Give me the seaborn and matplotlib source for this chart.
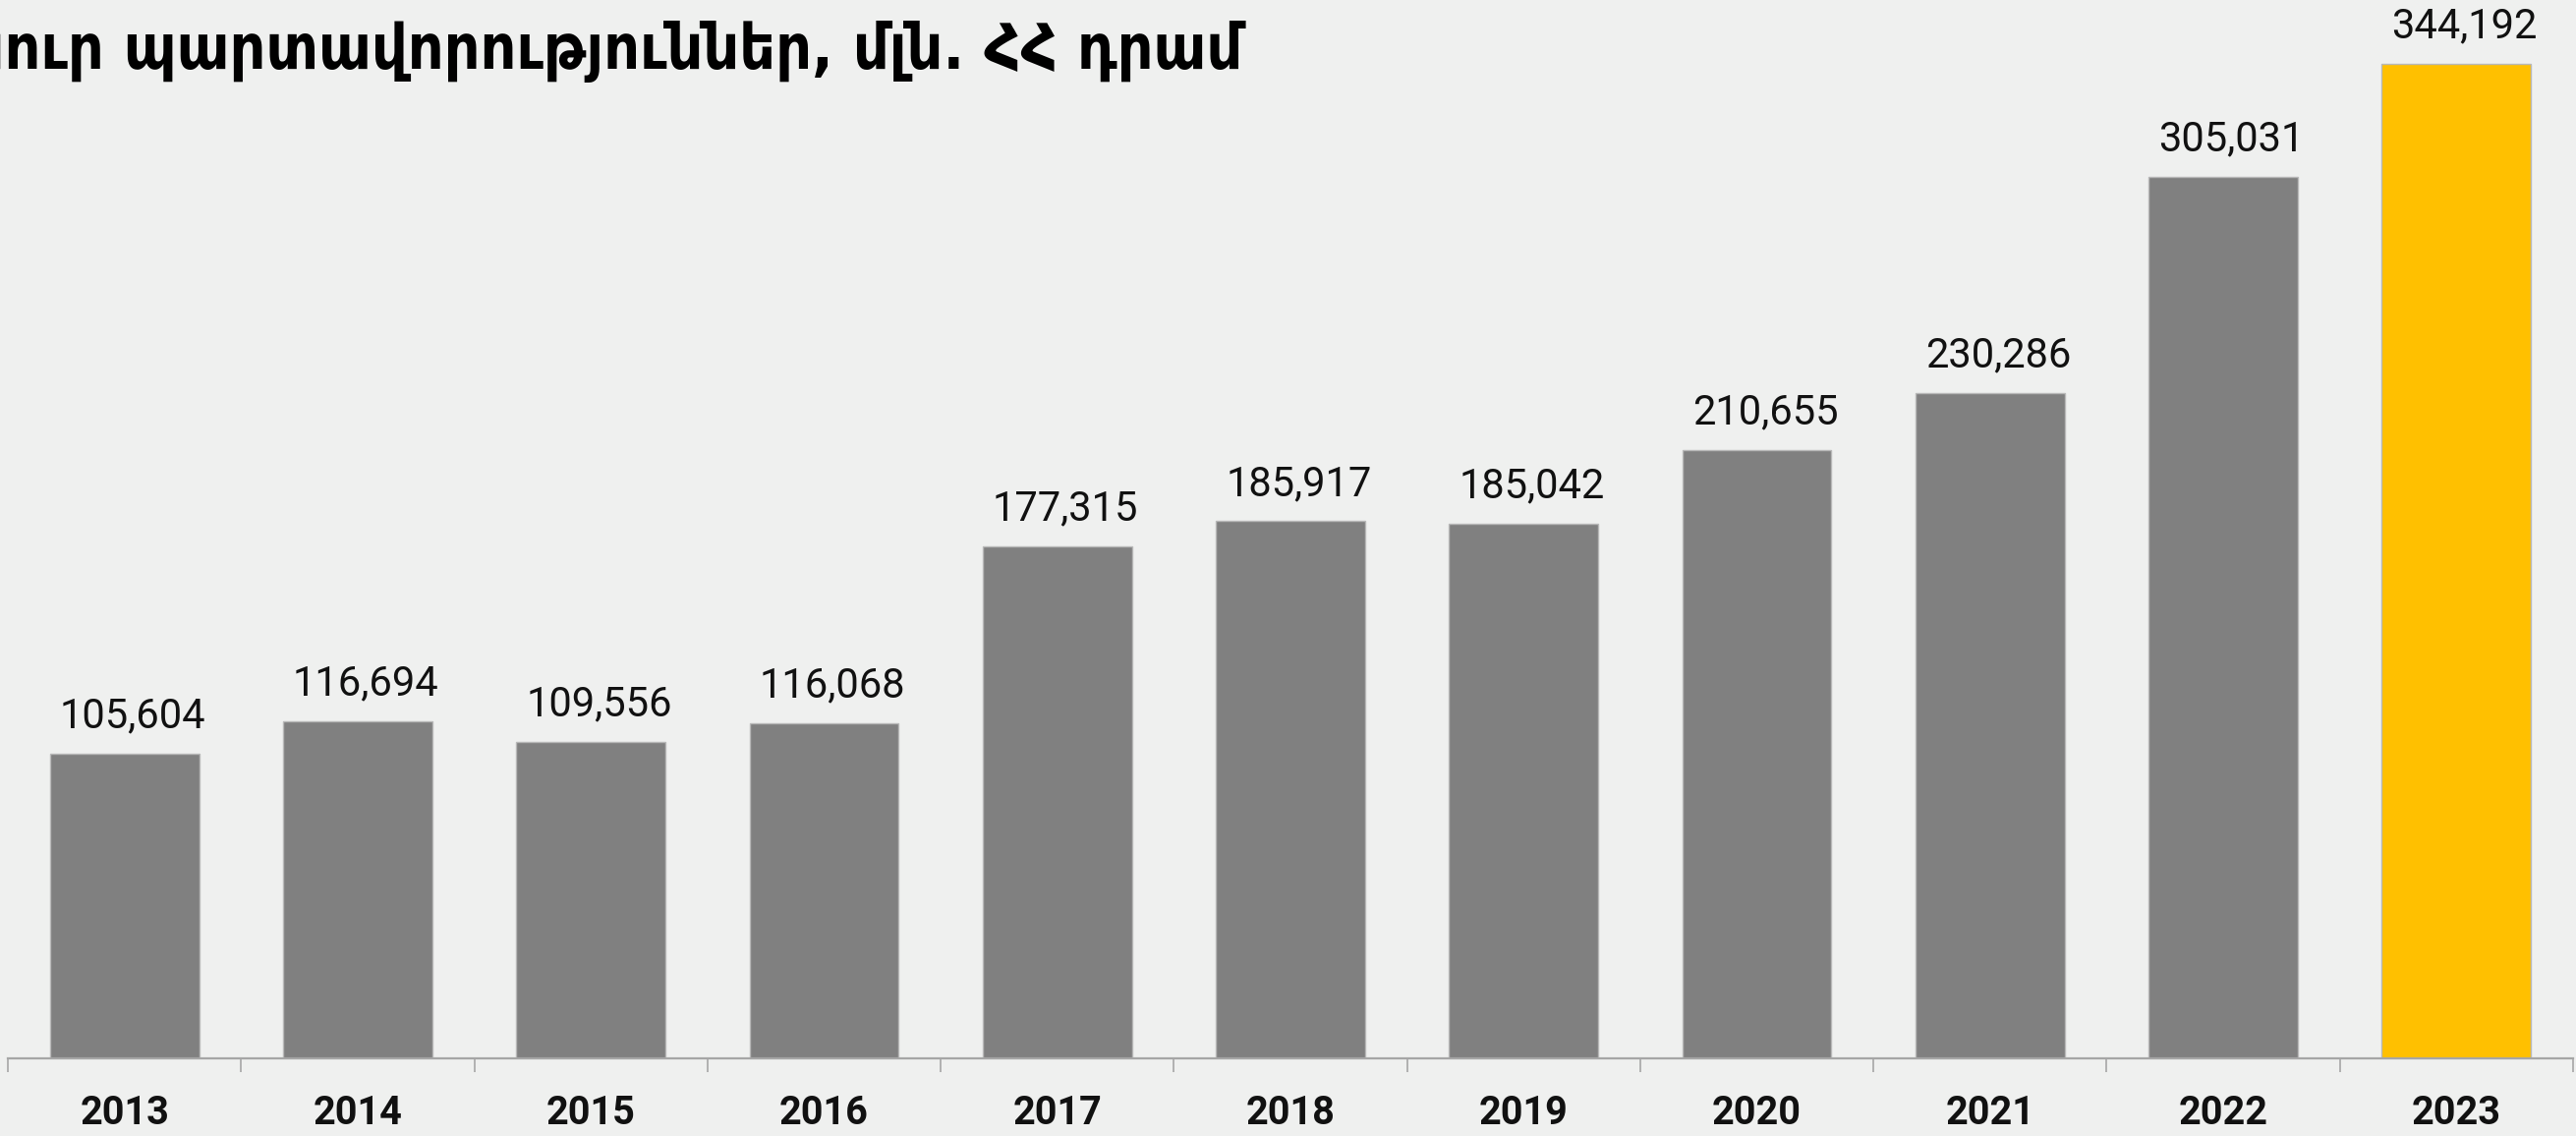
import matplotlib
matplotlib.use("Agg")
import matplotlib.pyplot as plt
import seaborn as sns
import pandas as pd

years = ["2013", "2014", "2015", "2016", "2017", "2018", "2019", "2020", "2021", "2022", "2023"]
values = [105604, 116694, 109556, 116068, 177315, 185917, 185042, 210655, 230286, 305031, 344192]
bar_colors = ["#808080"] * 10 + ["#FFC000"]
title_text = "Ընդհանուր պարտավորություններ, մլն. ՀՀ դրամ"
visible_title = "ուր պարտավորություններ, մլն. ՀՀ դրամ"

BG = "#EFF0EF"
W, H = 2621, 1156
DPI = 100

sns.set_theme(style="white")
plt.rcParams["font.family"] = ["Roboto", "DejaVu Sans"]

fig = plt.figure(figsize=(W / DPI, H / DPI), dpi=DPI, facecolor=BG)
ax_left, ax_right = 8, 2618
ax_bottom_px = 1077
ax = fig.add_axes([ax_left / W, (H - ax_bottom_px) / H, (ax_right - ax_left) / W, ax_bottom_px / H])
ax.set_facecolor(BG)

df = pd.DataFrame({"year": years, "value": values})
sns.barplot(data=df, x="year", y="value", hue="year", palette=bar_colors,
            legend=False, width=0.64, ax=ax, edgecolor="#B8B8B8", linewidth=1.0,
            saturation=1)

top_px = 65
ymax = max(values) * ax_bottom_px / (ax_bottom_px - top_px)
ax.set_ylim(0, ymax)
ax.set_xlim(-0.5, len(years) - 0.5)

for i, v in enumerate(values):
    ax.annotate(f"{v:,}", xy=(i, v), xytext=(6, 19), textcoords="offset points",
                ha="center", va="baseline", fontsize=30, color="#111111",
                family=["Roboto", "DejaVu Sans"])

for s in ["left", "right", "top"]:
    ax.spines[s].set_visible(False)
ax.spines["bottom"].set_color("#A6A6A6")
ax.spines["bottom"].set_linewidth(1.6)
ax.set_yticks([])
ax.set_xticks(range(len(years)))
ax.set_xticklabels(years, fontsize=28.5, fontweight="bold", color="#111111",
                   family=["Roboto", "DejaVu Sans"])
ax.set_xticks([i - 0.5 for i in range(len(years) + 1)], minor=True)
ax.tick_params(axis="x", which="major", length=0, pad=27)
ax.tick_params(axis="x", which="minor", length=10, width=1.2, color="#A6A6A6", direction="out", bottom=True)
ax.set_xlabel("")
ax.set_ylabel("")

# title: size fitted so that the visible part spans to x=1264px
renderer = fig.canvas.get_renderer()
probe = fig.text(0, 0, visible_title, fontsize=50, fontweight="bold",
                 family=["DejaVu Sans"], fontstretch="condensed")
wpx = probe.get_window_extent(renderer).width
probe.remove()
fs = 50 * 1262 / wpx
fig.text(1264 / W, (H - 70) / H, title_text, fontsize=fs, fontweight="bold",
         family=["DejaVu Sans"], fontstretch="condensed",
         ha="right", va="baseline", color="#000000")

fig.savefig("out.png", dpi=DPI, facecolor=BG)
